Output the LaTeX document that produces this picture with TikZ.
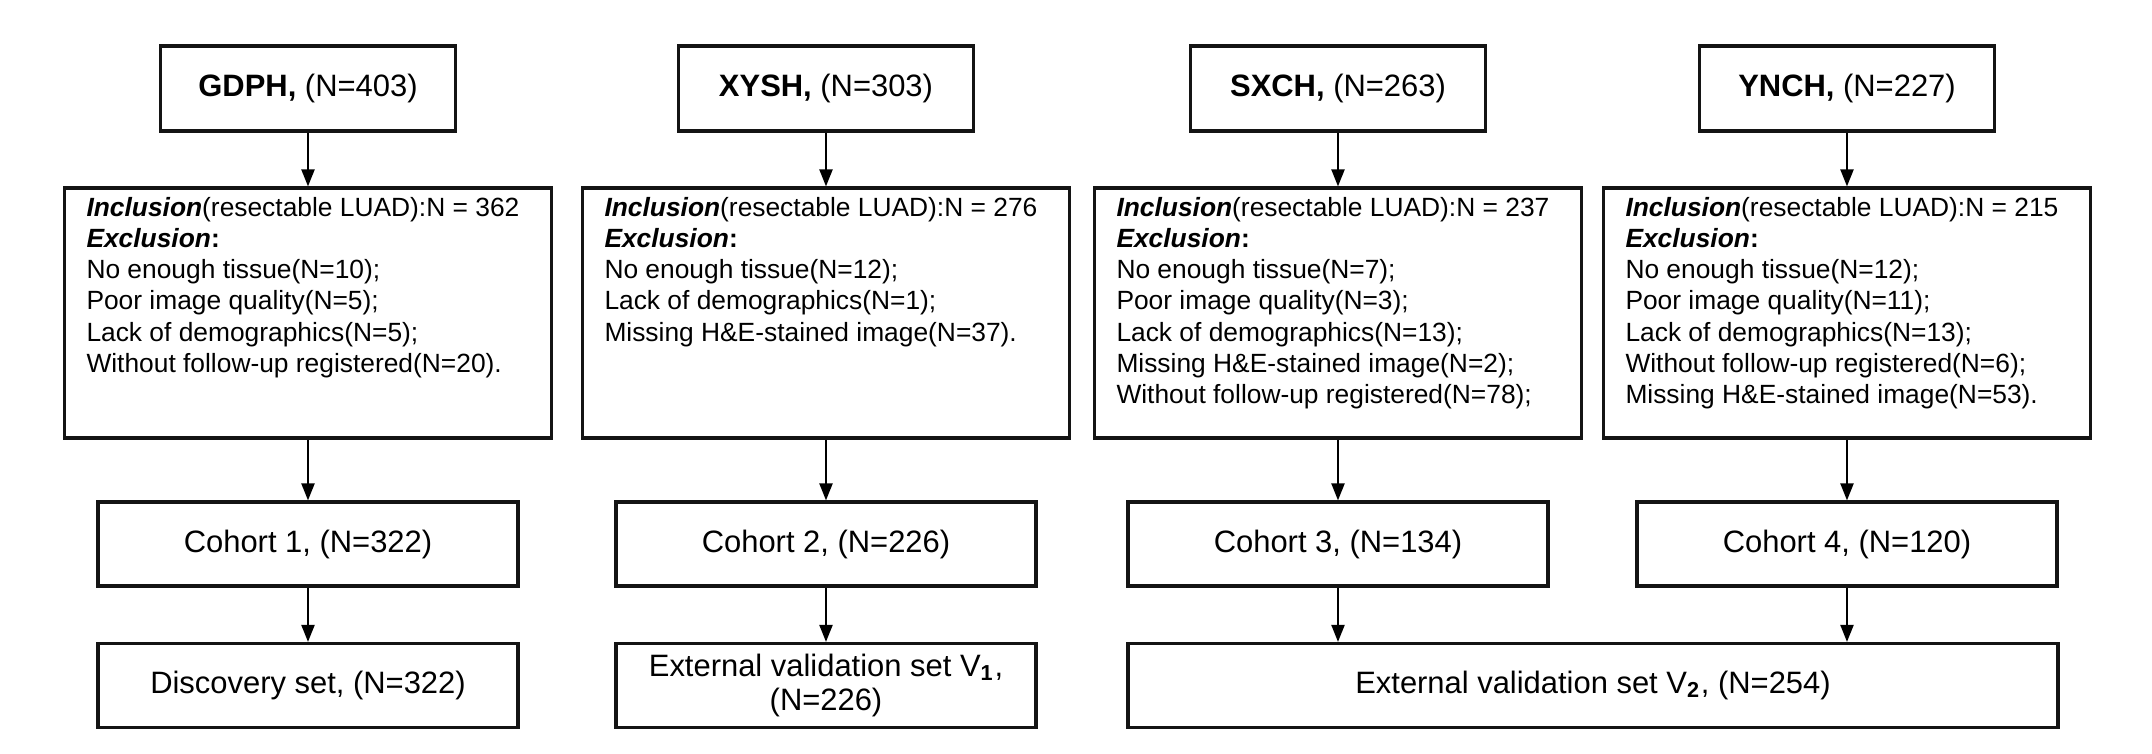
\documentclass[tikz,border=0pt]{standalone}
\usepackage{fontspec}
\setmainfont{Liberation Sans}
\usetikzlibrary{positioning,arrows.meta}
\definecolor{boxline}{RGB}{20,20,20}

\tikzset{
  sitebox/.style={draw=boxline,line width=0.9pt,minimum width=2.95cm,
    minimum height=0.85cm,inner sep=0pt,font=\fontsize{8.8}{10.5}\selectfont},
  critbox/.style={draw=boxline,line width=0.9pt,minimum width=4.87cm,
    minimum height=2.5cm,inner xsep=0.22cm,inner ysep=0.09cm,
    font=\fontsize{7.5}{8.9}\selectfont},
  cohortbox/.style={draw=boxline,line width=0.9pt,minimum width=4.2cm,
    minimum height=0.84cm,inner sep=0pt,align=center,
    font=\fontsize{8.8}{9.4}\selectfont},
  flow/.style={-{Triangle[length=1.7mm,width=1.3mm]},line width=0.6pt}
}
\newcommand{\critlist}[1]{\parbox[c][2.32cm][t]{4.43cm}{\raggedright #1}}

\begin{document}
\begin{tikzpicture}
  \useasboundingbox (0,0) rectangle (21.52,-7.54);

  % hospitals
  \node[sitebox] (gdph) at (3.08,-0.885) {\textbf{GDPH,} (N=403)};
  \node[sitebox] (xysh) at (8.26,-0.885) {\textbf{XYSH,} (N=303)};
  \node[sitebox] (sxch) at (13.38,-0.885) {\textbf{SXCH,} (N=263)};
  \node[sitebox] (ynch) at (18.47,-0.885) {\textbf{YNCH,} (N=227)};

  % inclusion / exclusion
  \node[critbox] (crit1) at (3.08,-3.13) {\critlist{%
    \textbf{\textit{Inclusion}}(resectable LUAD):N = 362\\
    \textbf{\textit{Exclusion}:}\\
    No enough tissue(N=10);\\
    Poor image quality(N=5);\\
    Lack of demographics(N=5);\\
    Without follow-up registered(N=20).}};
  \node[critbox] (crit2) at (8.26,-3.13) {\critlist{%
    \textbf{\textit{Inclusion}}(resectable LUAD):N = 276\\
    \textbf{\textit{Exclusion}:}\\
    No enough tissue(N=12);\\
    Lack of demographics(N=1);\\
    Missing H\&E-stained image(N=37).}};
  \node[critbox] (crit3) at (13.38,-3.13) {\critlist{%
    \textbf{\textit{Inclusion}}(resectable LUAD):N = 237\\
    \textbf{\textit{Exclusion}:}\\
    No enough tissue(N=7);\\
    Poor image quality(N=3);\\
    Lack of demographics(N=13);\\
    Missing H\&E-stained image(N=2);\\
    Without follow-up registered(N=78);}};
  \node[critbox] (crit4) at (18.47,-3.13) {\critlist{%
    \textbf{\textit{Inclusion}}(resectable LUAD):N = 215\\
    \textbf{\textit{Exclusion}:}\\
    No enough tissue(N=12);\\
    Poor image quality(N=11);\\
    Lack of demographics(N=13);\\
    Without follow-up registered(N=6);\\
    Missing H\&E-stained image(N=53).}};

  % cohorts
  \node[cohortbox] (coh1) at (3.08,-5.44) {Cohort 1, (N=322)};
  \node[cohortbox] (coh2) at (8.26,-5.44) {Cohort 2, (N=226)};
  \node[cohortbox] (coh3) at (13.38,-5.44) {Cohort 3, (N=134)};
  \node[cohortbox] (coh4) at (18.47,-5.44) {Cohort 4, (N=120)};

  % data sets
  \node[cohortbox] (disc) at (3.08,-6.855) {Discovery set, (N=322)};
  \node[cohortbox] (valone) at (8.26,-6.855)
    {External validation set V\textsubscript{\textbf{1}},\\(N=226)};
  \node[cohortbox,minimum width=9.3cm] (valtwo) at (15.93,-6.855)
    {External validation set V\textsubscript{\textbf{2}}, (N=254)};

  \draw[flow] (gdph) -- (crit1);
  \draw[flow] (xysh) -- (crit2);
  \draw[flow] (sxch) -- (crit3);
  \draw[flow] (ynch) -- (crit4);
  \draw[flow] (crit1) -- (coh1);
  \draw[flow] (crit2) -- (coh2);
  \draw[flow] (crit3) -- (coh3);
  \draw[flow] (crit4) -- (coh4);
  \draw[flow] (coh1) -- (disc);
  \draw[flow] (coh2) -- (valone);
  \draw[flow] (coh3.south) -- (coh3.south |- valtwo.north);
  \draw[flow] (coh4.south) -- (coh4.south |- valtwo.north);
\end{tikzpicture}
\end{document}
